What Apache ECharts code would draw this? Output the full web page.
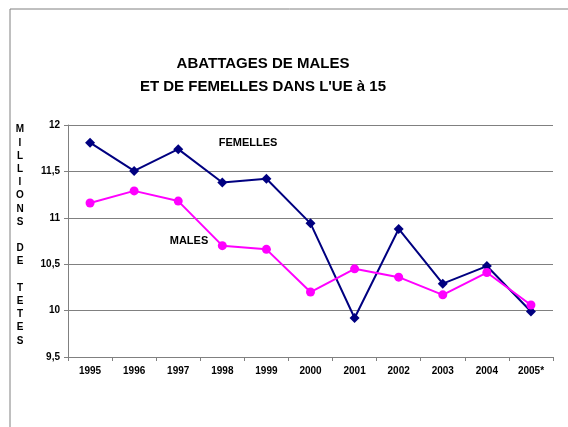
<!DOCTYPE html>
<html><head><meta charset="utf-8">
<script src="https://cdn.jsdelivr.net/npm/echarts@6/dist/echarts.min.js"></script>
<style>html,body{margin:0;padding:0;background:#fff}#c{width:568px;height:427px}</style>
</head><body><div id="c"></div>
<script>
const categories = ['1995','1996','1997','1998','1999','2000','2001','2002','2003','2004','2005*'];
const femelles = [11.81, 11.505, 11.74, 11.38, 11.42, 10.94, 9.92, 10.88, 10.29, 10.48, 9.99];
const males = [11.16, 11.29, 11.18, 10.70, 10.66, 10.20, 10.45, 10.36, 10.17, 10.41, 10.06];
const yTitle = 'M\nI\nL\nL\nI\nO\nN\nS\n\nD\nE\n\nT\nE\nT\nE\nS';
const FONT = '"Liberation Sans", Arial, sans-serif';

const chart = echarts.init(document.getElementById('c'), null, {renderer: 'canvas'});
chart.setOption({
  animation: false,
  backgroundColor: '#fff',
  title: {
    text: 'ABATTAGES DE MALES\nET DE FEMELLES DANS L\'UE à 15',
    left: 258, top: 47, textAlign: 'center',
    textStyle: {fontFamily: FONT, fontSize: 15, fontWeight: 'bold', color: '#000', lineHeight: 23}
  },
  grid: {left: 68, right: 15, top: 125, bottom: 70, containLabel: false},
  xAxis: {
    type: 'category', data: categories, boundaryGap: true,
    axisLine: {lineStyle: {color: '#808080', width: 1}},
    axisTick: {show: true, length: 4, lineStyle: {color: '#808080'}},
    axisLabel: {fontFamily: FONT, fontSize: 10, fontWeight: 'bold', color: '#000', margin: 9, interval: 0}
  },
  yAxis: {
    type: 'value', min: 9.5, max: 12, interval: 0.5,
    axisLine: {show: true, lineStyle: {color: '#808080', width: 1}},
    axisTick: {show: true, length: 4, lineStyle: {color: '#808080'}},
    splitLine: {lineStyle: {color: '#808080', width: 1}},
    axisLabel: {fontFamily: FONT, fontSize: 10, fontWeight: 'bold', color: '#000', margin: 8,
      formatter: v => String(v).replace('.', ',')}
  },
  series: [
    {name: 'FEMELLES', type: 'line', data: femelles, symbol: 'diamond', symbolSize: 10,
     lineStyle: {color: '#000080', width: 2}, itemStyle: {color: '#000080'}, z: 3},
    {name: 'MALES', type: 'line', data: males, symbol: 'circle', symbolSize: 9,
     lineStyle: {color: '#FF00FF', width: 2}, itemStyle: {color: '#FF00FF'}, z: 4}
  ],
  graphic: [
    {type: 'rect', shape: {x: 10, y: 9, width: 600, height: 500}, style: {fill: 'none', stroke: '#808080', lineWidth: 1}, z: -1},
    {type: 'text', x: 20, y: 123, style: {text: yTitle, fontFamily: FONT, fontSize: 10, fontWeight: 'bold', fill: '#000', align: 'center', verticalAlign: 'top', lineHeight: 13.2}},
    {type: 'text', x: 248, y: 143, style: {text: 'FEMELLES', fontFamily: FONT, fontSize: 11, fontWeight: 'bold', fill: '#000', align: 'center', verticalAlign: 'middle'}},
    {type: 'text', x: 189, y: 241, style: {text: 'MALES', fontFamily: FONT, fontSize: 11, fontWeight: 'bold', fill: '#000', align: 'center', verticalAlign: 'middle'}}
  ]
});
</script></body></html>
